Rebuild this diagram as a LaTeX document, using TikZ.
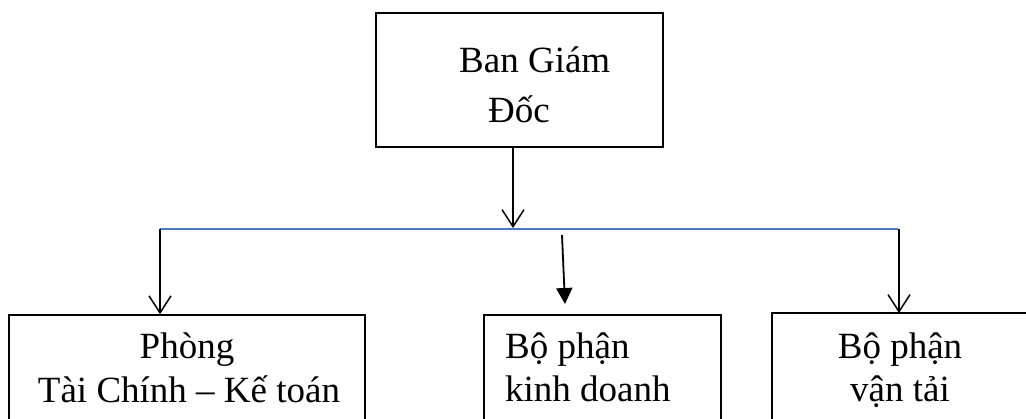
\documentclass[tikz,border=0pt]{standalone}
\usepackage{fontspec}
\setmainfont{Liberation Serif}
\usetikzlibrary{arrows.meta}
\definecolor{linkblue}{RGB}{74,126,187}
\begin{document}
\begin{tikzpicture}[x=1pt,y=1pt,
  boxstyle/.style={draw=black,line width=1.5pt,rectangle,inner sep=0pt},
  txt/.style={inner sep=0pt,font=\fontsize{37}{43}\selectfont},
  openarrow/.style={draw=black,line width=1.5pt,-{Straight Barb[length=17pt,width=22pt,line width=1.5pt]}},
  filledarrow/.style={draw=black,line width=1.8pt,-{Triangle[length=16pt,width=16pt]}},
  busline/.style={draw=linkblue,line width=1.8pt}]
\useasboundingbox (0,0) rectangle (1026,-419);
% boxes
\node[boxstyle,minimum width=287pt,minimum height=134pt] (top) at (519.5,-80) {};
\node[boxstyle,minimum width=356pt,minimum height=125pt] (left) at (187,-377.5) {};
\node[boxstyle,minimum width=237pt,minimum height=125pt] (mid) at (602.5,-377.5) {};
\node[boxstyle,minimum width=268pt,minimum height=127pt] (right) at (906,-376.5) {};
% texts
\node[txt,anchor=base west] (t1) at (459,-73) {Ban Giám};
\node[txt,anchor=base west] (t2) at (488,-123) {Đốc};
\node[txt,anchor=base] (l1) at (187,-359) {Phòng};
\node[txt,anchor=base] (l2) at (189,-403) {Tài Chính – Kế toán};
\node[txt,anchor=base west] (m1) at (505,-359) {Bộ phận};
\node[txt,anchor=base west] (m2) at (505,-402) {kinh doanh};
\node[txt,anchor=base] (r1) at (900,-359) {Bộ phận};
\node[txt,anchor=base] (r2) at (900,-402) {vận tải};
% bus
\coordinate (busL) at (160,-229);
\coordinate (busR) at (898,-229);
\coordinate (busT) at (513,-228);
\coordinate (midS) at (562,-235);
\coordinate (midE) at (565,-304);
\draw[busline] (busL) -- (busR);
\draw[openarrow] (top.south -| busT) -- (busT);
\draw[openarrow] (busL) -- (busL |- left.north);
\draw[filledarrow] (midS) -- (midE);
\draw[openarrow] (899,-229) -- (899,-313);
\end{tikzpicture}
\end{document}
